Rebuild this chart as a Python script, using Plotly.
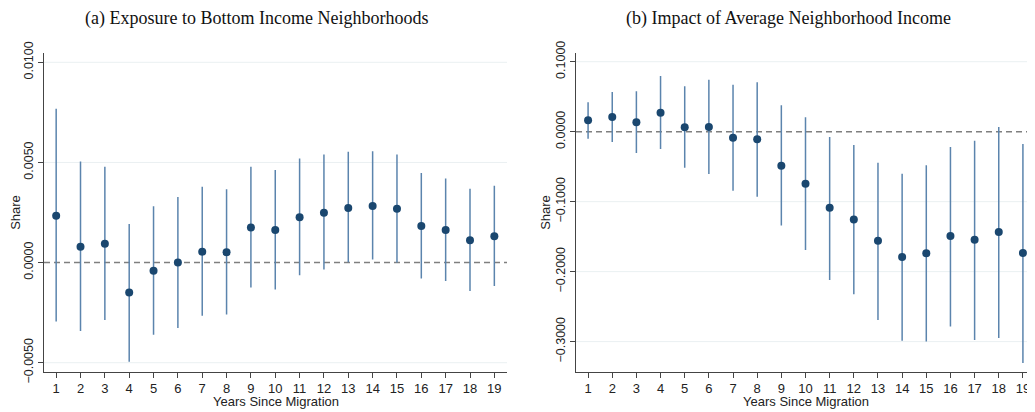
import plotly.graph_objects as go

years = list(range(1, 20))

# Panel (a): Exposure to Bottom Income Neighborhoods
a_est = [0.00234, 0.00079, 0.00094, -0.00150, -0.00041, 0.00000, 0.00054, 0.00051, 0.00175, 0.00162,
         0.00226, 0.00249, 0.00272, 0.00282, 0.00269, 0.00182, 0.00162, 0.00111, 0.00132]
a_hi = [0.00768, 0.00505, 0.00478, 0.00193, 0.00281, 0.00328, 0.00379, 0.00366, 0.00478, 0.00462,
        0.00520, 0.00540, 0.00553, 0.00556, 0.00540, 0.00447, 0.00420, 0.00368, 0.00384]
a_lo = [-0.00294, -0.00342, -0.00287, -0.00495, -0.00361, -0.00327, -0.00266, -0.00259, -0.00125, -0.00134,
        -0.00063, -0.00035, 0.00002, 0.00015, 0.00000, -0.00079, -0.00092, -0.00142, -0.00117]

# Panel (b): Impact of Average Neighborhood Income
b_est = [0.0162, 0.0210, 0.0133, 0.0271, 0.0062, 0.0067, -0.0086, -0.0110, -0.0486, -0.0743,
         -0.1086, -0.1254, -0.1560, -0.1790, -0.1737, -0.1490, -0.1545, -0.1435, -0.1732]
b_hi = [0.0419, 0.0567, 0.0576, 0.0795, 0.0648, 0.0743, 0.0671, 0.0705, 0.0376, 0.0205,
        -0.0076, -0.0190, -0.0443, -0.0600, -0.0480, -0.0219, -0.0129, 0.0067, -0.0176]
b_lo = [-0.0100, -0.0148, -0.0305, -0.0248, -0.0514, -0.0605, -0.0843, -0.0929, -0.1340, -0.1690,
        -0.2120, -0.2325, -0.2690, -0.2986, -0.3000, -0.2785, -0.2976, -0.2947, -0.3306]

a_ticks = [-0.005, 0.0, 0.005, 0.01]
b_ticks = [-0.3, -0.2, -0.1, 0.0, 0.1]

titles = ["(a) Exposure to Bottom Income Neighborhoods", "(b) Impact of Average Neighborhood Income"]
x_title = "Years Since Migration"

MARK = "#1a476f"
BAR = "#5b84ad"
GRID = "#eaf0f2"
AXC = "#444444"
SANS = "Liberation Sans, Arial"

# The page body has an 8px margin; size the figure so it fills the window.
OFF = 8
W, H = 1035 - OFF, 412 - OFF


def px_x(p):
    return (p - OFF) / W


def px_y(p):
    return 1 - (p - OFF) / H


fig = go.Figure()

# light gridlines (non-zero ticks) and the dashed zero reference line, under the marks
for xr, yr, ticks in [("x", "y", a_ticks), ("x2", "y2", b_ticks)]:
    for tv in ticks:
        if tv != 0:
            fig.add_shape(type="line", xref=f"{xr} domain", yref=yr, x0=0, x1=1, y0=tv, y1=tv,
                          line=dict(color=GRID, width=1), layer="below")
    fig.add_shape(type="line", xref=f"{xr} domain", yref=yr, x0=0, x1=1, y0=0, y1=0,
                  line=dict(color="#7f7f7f", width=1.6, dash="6px,4px"), layer="below")


def add_panel(idx, est, hi, lo):
    xa = "x" if idx == 1 else "x2"
    ya = "y" if idx == 1 else "y2"
    plus = [h - e for h, e in zip(hi, est)]
    minus = [e - l for e, l in zip(est, lo)]
    fig.add_trace(go.Scatter(
        x=years, y=est, mode="markers", xaxis=xa, yaxis=ya,
        marker=dict(color=MARK, size=8),
        error_y=dict(type="data", array=plus, arrayminus=minus, symmetric=False,
                     color=BAR, thickness=1.5, width=0),
        showlegend=False, cliponaxis=False))


add_panel(1, a_est, a_hi, a_lo)
add_panel(2, b_est, b_hi, b_lo)

ydom = [px_y(371.7), px_y(53.3)]
common_x = dict(tickmode="array", tickvals=years, ticktext=[str(v) for v in years],
                automargin=False, ticklabeloverflow="allow",
                showline=True, linecolor=AXC, linewidth=1, ticks="outside", ticklen=5,
                tickcolor=AXC, showgrid=False, zeroline=False,
                tickfont=dict(family=SANS, size=13, color="#222"))
common_y = dict(showline=True, linecolor=AXC, linewidth=1, ticks="outside", ticklen=5,
                automargin=False, ticklabeloverflow="allow",
                tickcolor=AXC, showgrid=False, zeroline=False,
                tickangle=-90, tickformat=".4f",
                tickfont=dict(family=SANS, size=12.5, color="#222"),
                title=dict(text="Share", standoff=0,
                           font=dict(family=SANS, size=13, color="#222")))

fig.update_layout(
    template="none",
    width=W, height=H,
    margin=dict(l=0, r=0, t=0, b=0, autoexpand=False),
    paper_bgcolor="white", plot_bgcolor="white",
    xaxis=dict(common_x, domain=[px_x(44), px_x(507)], range=[0.5, 19.52], anchor="y"),
    yaxis=dict(common_y, domain=ydom, range=[-0.00545, 0.01045], tickvals=a_ticks, anchor="x"),
    xaxis2=dict(common_x, domain=[px_x(576), 1.0], range=[0.5, 19.5], anchor="y2"),
    yaxis2=dict(common_y, domain=ydom, range=[-0.343, 0.112], tickvals=b_ticks, anchor="x2"),
)

for t, xc in zip(titles, [256, 788]):
    fig.add_annotation(text=t, xref="paper", yref="paper",
                       x=px_x(xc), y=px_y(18.5), xanchor="center", yanchor="middle",
                       showarrow=False, borderpad=0,
                       font=dict(family="Liberation Serif, Times New Roman", size=18, color="#111"))

for xr in ["x", "x2"]:
    fig.add_annotation(text=x_title, xref=f"{xr} domain", yref="paper",
                       x=0.5, y=px_y(401.5), xanchor="center", yanchor="middle",
                       showarrow=False, borderpad=0,
                       font=dict(family=SANS, size=13, color="#222"))

fig.write_html("out.html")
